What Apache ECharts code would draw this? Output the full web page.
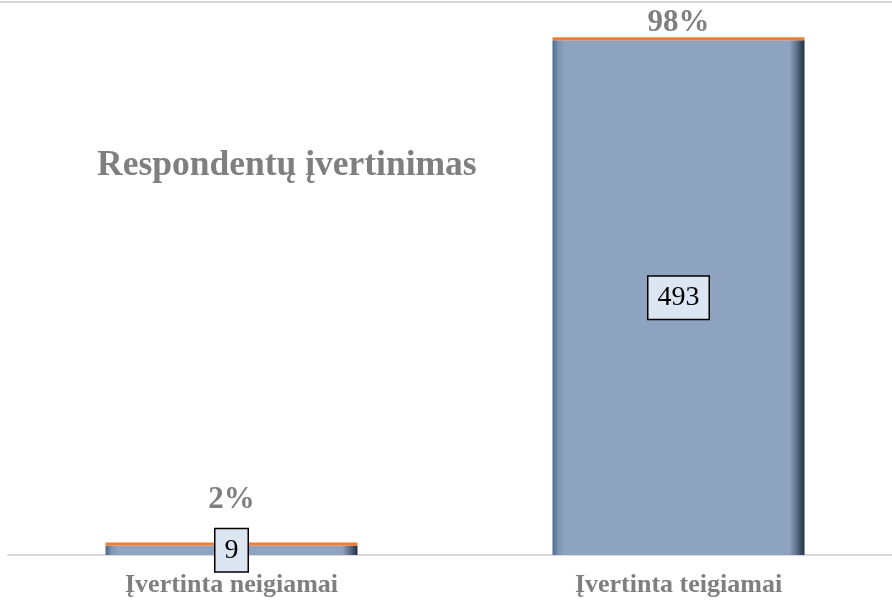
<!DOCTYPE html>
<html>
<head>
<meta charset="utf-8">
<script src="https://cdn.jsdelivr.net/npm/echarts@6/dist/echarts.min.js"></script>
<style>
  html, body { margin: 0; padding: 0; background: #fff; }
  #chart { width: 892px; height: 606px; }
</style>
</head>
<body>
<div id="chart"></div>
<script>
// duomenys
const categories = ['Įvertinta neigiamai', 'Įvertinta teigiamai'];
const counts = [9, 493];
const shares = [0.02, 0.98];

const chart = echarts.init(document.getElementById('chart'));
const grey = '#7f7f7f';
const font = '"Liberation Serif", "Times New Roman", serif';

// bar fill with darker edges (bevel look)
const barFill = new echarts.graphic.LinearGradient(0, 0, 1, 0, [
  { offset: 0, color: '#4a6a90' },
  { offset: 0.025, color: '#7f96b4' },
  { offset: 0.05, color: '#8ea3bf' },
  { offset: 0.94, color: '#8ea3bf' },
  { offset: 0.97, color: '#5d6f86' },
  { offset: 1, color: '#1f2d40' }
]);

let option = {
  backgroundColor: '#fff',
  title: {
    text: 'Respondentų įvertinimas',
    left: 92,
    top: 143,
    textStyle: { color: grey, fontFamily: font, fontSize: 35.5, fontWeight: 'bold' }
  },
  grid: { left: 8, width: 894, top: 33, bottom: 51, containLabel: false, outerBoundsMode: 'none' },
  xAxis: {
    type: 'category',
    data: categories,
    axisLine: { show: true, lineStyle: { color: '#d9d9d9', width: 2 } },
    axisTick: { show: false },
    axisLabel: {
      color: grey, fontFamily: font, fontSize: 26, fontWeight: 'bold', margin: 17
    }
  },
  yAxis: {
    type: 'value',
    min: 0,
    max: 500,
    show: false,
    splitLine: { show: false }
  },
  series: [
    {
      name: 'Skaičius',
      type: 'bar',
      stack: 'a',
      barWidth: 252,
      data: counts,
      itemStyle: { color: barFill },
      label: {
        show: true,
        position: 'inside',
        color: '#000',
        fontFamily: font,
        fontSize: 28,
        lineHeight: 28,
        backgroundColor: '#dce6f2',
        borderColor: '#000',
        borderWidth: 1.5,
        padding: [8, 9, 6, 9]
      }
    },
    {
      name: 'Dalis',
      type: 'bar',
      stack: 'a',
      barWidth: 252,
      barMinHeight: 3,
      data: shares.map((v, i) => ({
        value: v,
        label: i === 0 ? { offset: [0, -28] } : {}
      })),
      itemStyle: { color: '#ed7d31' },
      label: {
        show: true,
        position: 'top',
        distance: -1,
        color: grey,
        fontFamily: font,
        fontSize: 31,
        fontWeight: 'bold',
        formatter: p => Math.round(p.value * 100) + '%'
      }
    }
  ],
  graphic: [
    {
      type: 'line',
      shape: { x1: 0, y1: 2, x2: 892, y2: 2 },
      style: { stroke: '#d9d9d9', lineWidth: 2 }
    }
  ]
};
chart.setOption(option);
</script>
</body>
</html>
